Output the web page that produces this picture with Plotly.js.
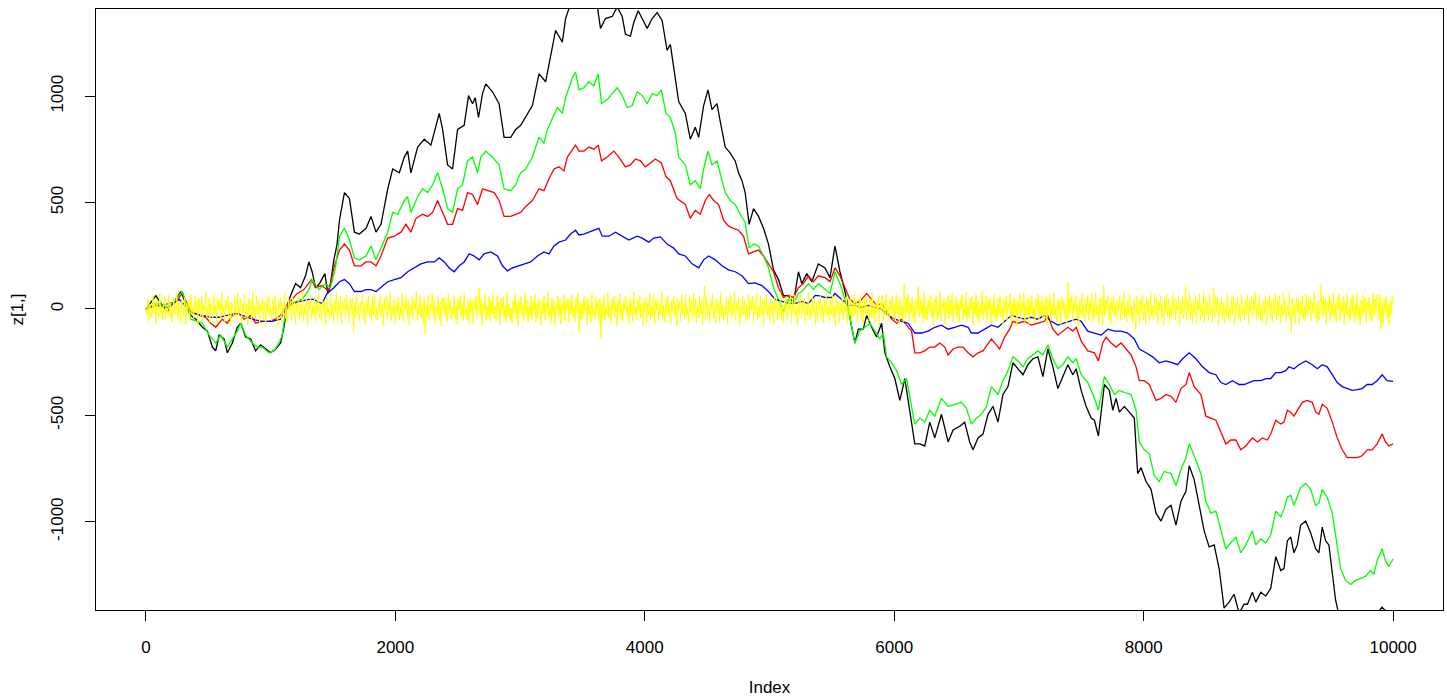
<!DOCTYPE html>
<html>
<head>
<meta charset="utf-8">
<script src="https://cdn.plot.ly/plotly-3.0.1.min.js"></script>
<style>
  html, body { margin: 0; padding: 0; background: #ffffff; }
  #chart { width: 1447px; height: 698px; }
</style>
</head>
<body>
<div id="chart"></div>
<script>
// ---- data: [Index, value] ----
const xTicks = [0, 2000, 4000, 6000, 8000, 10000];
const yTicks = [-1000, -500, 0, 500, 1000];

const black = [[0,-2],[80,63],[120,26],[173,-11],[240,45],[280,82],[320,26],[360,-30],[400,-48],[453,-86],[493,-104],[533,-179],[560,-197],[587,-123],[627,-141],[653,-206],[693,-160],[733,-86],[760,-67],[800,-132],[840,-141],[880,-197],[920,-169],[960,-188],[1000,-206],[1040,-188],[1080,-160],[1107,-86],[1133,17],[1160,63],[1200,119],[1240,100],[1280,156],[1307,221],[1333,175],[1360,100],[1392,119],[1435,166],[1459,73],[1480,119],[1507,231],[1533,305],
[1552,417],[1592,547],[1632,519],[1672,361],[1712,352],[1765,379],[1805,435],[1845,361],[1885,398],[1939,565],[1979,658],[2032,640],[2072,714],[2099,742],[2125,640],[2179,761],[2232,798],[2285,770],[2325,854],[2352,919],[2379,844],[2419,677],[2459,658],[2499,844],[2552,863],[2587,1003],[2619,965],[2640,993],[2667,900],[2699,1012],[2725,1058],[2779,1021],[2832,965],[2872,807],[2925,807],[2965,844],[3005,863],[3059,919],[3099,956],[3152,1105],[3205,1068],[3245,1189],[3285,1309],[3339,1254],[3365,1365],[3392,1412],
[3420,1440],[3460,1420],[3500,1450],[3540,1430],[3580,1460],[3620,1420],
[3645,1319],[3685,1365],[3739,1375],[3779,1420],[3819,1375],[3845,1291],[3885,1282],[3912,1347],[3947,1402],[3979,1365],[4019,1319],[4059,1365],[4099,1393],[4139,1356],[4179,1216],[4205,1244],[4245,1086],[4272,975],[4325,919],[4365,798],[4405,854],[4432,807],[4472,956],[4507,1030],[4539,937],[4579,965],[4605,882],[4645,761],[4685,733],[4725,696],[4752,640],[4779,603],[4805,547],[4837,398],[4872,472],[4912,435],[4952,379],[4992,305],[5032,184],[5072,138],[5112,63],[5152,63],[5192,26],[5232,175],[5259,119],[5299,166],[5339,128],
[5392,212],[5445,193],[5485,147],[5525,296],[5565,175],[5605,82],[5632,7],[5659,-86],[5685,-160],[5712,-95],[5752,-95],[5779,-30],[5819,-86],[5859,-132],[5899,-67],[5925,-206],[5965,-272],[6005,-327],[6045,-430],[6085,-327],[6125,-476],[6165,-634],[6205,-634],[6245,-644],[6285,-532],[6325,-606],[6379,-495],[6432,-625],[6472,-569],[6525,-551],[6565,-532],[6605,-625],[6632,-662],[6672,-606],[6712,-588],[6752,-495],[6792,-458],[6832,-532],[6872,-402],[6912,-365],[6952,-253],[6992,-281],[7032,-309],[7072,-262],[7112,-234],[7152,-225],[7192,-318],[7232,-188],[7272,-272],
[7312,-374],[7352,-318],[7392,-262],[7432,-309],[7459,-281],[7499,-383],[7539,-458],[7579,-513],[7605,-523],[7637,-597],[7672,-402],[7685,-355],[7725,-383],[7752,-476],[7779,-420],[7805,-485],[7845,-458],[7885,-485],[7925,-513],[7952,-774],[7979,-746],[8019,-811],[8059,-848],[8099,-960],[8139,-997],[8179,-941],[8219,-923],[8259,-1016],[8299,-904],[8339,-857],[8365,-737],[8405,-802],[8445,-923],[8485,-1043],[8525,-1118],[8565,-1109],[8605,-1220],[8645,-1406],[8685,-1378],[8725,-1341],[8765,-1430],[8805,-1388],
[8832,-1388],[8872,-1332],[8899,-1378],[8939,-1332],[8979,-1350],[9019,-1313],[9059,-1164],[9099,-1229],[9125,-1220],[9152,-1090],[9179,-1071],[9205,-1146],[9232,-1109],[9259,-1016],[9299,-997],[9339,-1053],[9379,-1127],[9405,-1146],[9432,-1025],[9459,-1090],[9485,-1109],[9512,-1239],[9539,-1369],[9557,-1415],[9600,-1480],[9680,-1530],[9760,-1510],[9840,-1460],[9910,-1402],[9960,-1430],[10000,-1420]];

const red = [[0,-2],[80,26],[133,17],[240,35],[293,73],[360,-11],[427,-30],[480,-39],[520,-67],[560,-86],[613,-48],[653,-67],[693,-30],[747,-20],[787,-48],[840,-30],[880,-67],[933,-58],[987,-58],[1040,-48],[1080,-30],[1120,7],[1173,45],[1213,73],[1267,91],[1328,138],[1360,100],[1413,110],[1467,82],[1507,193],
[1552,277],[1592,305],[1632,277],[1672,203],[1725,203],[1765,221],[1805,221],[1845,203],[1885,249],[1939,333],[1992,342],[2045,361],[2085,398],[2125,361],[2165,426],[2219,445],[2259,435],[2299,454],[2339,510],[2379,454],[2419,398],[2459,398],[2499,472],[2539,463],[2579,547],[2619,538],[2659,491],[2699,565],[2739,556],[2792,547],[2832,510],[2872,435],[2925,435],[2965,445],[3005,454],[3045,482],[3099,510],[3152,565],[3192,556],[3232,612],[3272,658],[3312,668],[3352,649],[3379,714],[3419,751],[3445,770],
[3472,742],[3512,742],[3552,761],[3592,751],[3627,770],[3653,696],[3699,714],[3752,742],[3792,714],[3845,668],[3885,677],[3925,705],[3965,696],[4005,668],[4045,686],[4085,705],[4133,686],[4171,621],[4205,603],[4259,519],[4325,491],[4365,426],[4405,463],[4445,445],[4485,510],[4517,538],[4552,510],[4592,491],[4632,417],[4672,389],[4712,379],[4752,370],[4792,342],[4832,259],[4872,268],[4912,277],[4952,249],[4992,212],[5032,175],[5072,100],[5112,54],[5152,63],[5192,54],[5232,100],[5272,119],[5312,156],[5352,128],
[5392,156],[5445,147],[5485,128],[5525,193],[5565,156],[5605,100],[5645,45],[5685,26],[5725,35],[5779,73],[5819,45],[5859,17],[5899,26],[5939,-11],[5979,-48],[6019,-67],[6059,-48],[6099,-76],[6139,-104],[6165,-206],[6205,-206],[6245,-197],[6285,-179],[6325,-179],[6365,-160],[6405,-179],[6432,-216],[6472,-188],[6512,-179],[6552,-179],[6592,-206],[6632,-225],[6672,-206],[6712,-197],[6752,-160],[6779,-141],[6819,-169],[6845,-188],[6885,-132],[6925,-95],[6952,-58],[6992,-67],[7045,-58],[7099,-76],[7152,-67],[7205,-58],[7232,-30],[7272,-95],
[7312,-123],[7352,-104],[7392,-86],[7432,-104],[7459,-86],[7499,-151],[7552,-197],[7605,-206],[7637,-244],[7672,-160],[7699,-132],[7739,-160],[7779,-179],[7819,-160],[7859,-188],[7899,-216],[7939,-272],[7965,-337],[8005,-337],[8045,-355],[8099,-430],[8139,-420],[8179,-402],[8219,-411],[8259,-439],[8299,-374],[8339,-355],[8365,-299],[8405,-365],[8459,-402],[8499,-504],[8539,-513],[8579,-523],[8619,-578],[8659,-634],[8699,-616],[8739,-616],[8779,-662],[8819,-644],
[8872,-606],[8912,-625],[8952,-606],[8992,-616],[9019,-588],[9059,-523],[9099,-541],[9125,-532],[9152,-476],[9179,-485],[9205,-504],[9232,-476],[9272,-439],[9312,-430],[9352,-439],[9379,-485],[9405,-495],[9432,-448],[9472,-467],[9512,-532],[9552,-606],[9592,-662],[9632,-699],[9672,-699],[9712,-699],[9752,-690],[9792,-662],[9832,-662],[9872,-634],[9912,-588],[9939,-625],[9965,-644],[10000,-634]];

const green = [[0,-2],[80,26],[133,17],[213,26],[293,82],[360,-48],[413,-58],[453,-67],[507,-123],[560,-160],[600,-123],[653,-179],[693,-141],[733,-104],[760,-67],[800,-123],[853,-160],[893,-179],[933,-179],[987,-206],[1027,-197],[1067,-160],[1093,-123],[1120,-11],[1160,26],[1200,35],[1253,45],[1307,91],[1333,138],[1387,91],[1440,119],[1480,100],[1520,193],
[1552,342],[1592,379],[1632,324],[1672,240],[1712,231],[1765,249],[1805,296],[1845,231],[1885,286],[1939,361],[1979,454],[2019,445],[2072,510],[2099,528],[2125,454],[2179,528],[2219,565],[2259,547],[2299,584],[2339,640],[2379,565],[2419,472],[2459,454],[2499,565],[2539,584],[2579,696],[2619,714],[2659,640],[2685,714],[2725,742],[2779,714],[2832,677],[2872,565],[2925,556],[2965,584],[3005,640],[3045,658],[3099,714],[3152,807],[3192,779],[3219,844],[3259,900],[3299,947],[3339,919],[3365,993],[3392,1040],[3419,1086],[3445,1114],
[3472,1030],[3512,1040],[3552,1068],[3592,1049],[3627,1105],[3653,965],[3699,984],[3739,1012],[3779,1040],[3819,1003],[3859,947],[3899,956],[3939,1021],[3979,1003],[4019,965],[4059,1012],[4099,1003],[4133,1030],[4171,919],[4205,900],[4245,826],[4272,714],[4325,677],[4365,584],[4405,603],[4445,565],[4472,658],[4507,742],[4539,677],[4579,696],[4619,603],[4645,547],[4685,510],[4725,491],[4765,445],[4805,407],[4837,286],[4872,305],[4912,296],[4952,249],[4992,193],[5032,100],[5072,45],[5112,-11],[5152,45],[5192,26],[5232,73],[5259,82],[5312,119],[5352,91],
[5392,119],[5445,91],[5485,73],[5525,175],[5565,119],[5605,45],[5645,-39],[5685,-160],[5725,-104],[5765,-86],[5805,-67],[5845,-104],[5885,-141],[5912,-113],[5939,-225],[5979,-253],[6019,-290],[6059,-355],[6099,-327],[6139,-458],[6165,-541],[6205,-513],[6245,-532],[6285,-476],[6325,-504],[6379,-420],[6432,-458],[6485,-448],[6539,-439],[6579,-467],[6619,-541],[6659,-513],[6699,-495],[6739,-458],[6779,-365],[6832,-402],[6872,-337],[6912,-290],[6952,-225],[6992,-244],[7032,-272],[7072,-234],[7112,-216],[7152,-197],[7192,-216],[7232,-169],[7272,-234],
[7312,-281],[7352,-262],[7392,-225],[7432,-253],[7459,-234],[7499,-309],[7552,-346],[7605,-420],[7637,-476],[7685,-318],[7725,-355],[7765,-402],[7805,-383],[7845,-392],[7899,-402],[7939,-476],[7965,-625],[8005,-662],[8045,-681],[8085,-783],[8125,-811],[8165,-764],[8219,-774],[8259,-830],[8299,-755],[8339,-699],[8365,-634],[8405,-690],[8459,-774],[8499,-904],[8539,-960],[8579,-950],[8619,-1034],[8659,-1127],[8699,-1099],[8739,-1071],[8779,-1146],[8819,-1109],
[8872,-1043],[8899,-1109],[8939,-1081],[8979,-1099],[9019,-1062],[9059,-950],[9099,-978],[9125,-941],[9152,-885],[9179,-876],[9205,-923],[9232,-885],[9259,-839],[9299,-820],[9339,-848],[9379,-923],[9405,-913],[9432,-848],[9472,-885],[9512,-960],[9539,-1071],[9579,-1220],[9619,-1276],[9659,-1295],[9699,-1276],[9739,-1267],[9779,-1257],[9819,-1229],[9845,-1248],[9872,-1183],[9912,-1127],[9939,-1183],[9965,-1211],[10000,-1174]];

const blue = [[0,-2],[80,17],[173,7],[267,45],[373,-20],[453,-30],[520,-39],[587,-39],[653,-30],[720,-20],[773,-30],[853,-48],[933,-58],[1013,-58],[1080,-48],[1120,-2],[1173,26],[1240,35],[1307,45],[1347,45],[1373,35],[1413,26],[1453,73],[1507,100],
[1552,128],[1592,138],[1632,119],[1672,82],[1725,82],[1765,91],[1805,91],[1845,82],[1885,100],[1939,128],[1992,138],[2045,147],[2099,175],[2152,193],[2205,212],[2259,221],[2312,221],[2352,240],[2392,221],[2432,193],[2472,175],[2512,203],[2552,221],[2592,259],[2632,249],[2672,231],[2712,259],[2765,268],[2819,249],[2859,203],[2899,179],[2939,193],[2992,203],[3045,212],[3085,221],[3139,249],[3192,268],[3232,259],[3272,296],[3312,314],[3365,324],[3405,352],[3445,370],
[3472,348],[3512,352],[3552,361],[3592,370],[3632,379],[3659,342],[3712,342],[3765,361],[3819,342],[3872,324],[3939,342],[3979,333],[4032,314],[4072,333],[4125,339],[4179,305],[4232,286],[4272,259],[4325,249],[4379,212],[4432,193],[4472,231],[4512,249],[4565,231],[4619,203],[4672,184],[4725,175],[4779,156],[4832,119],[4885,123],[4939,110],[4992,82],[5045,45],[5099,35],[5152,26],[5205,26],[5259,35],[5312,26],[5365,63],
[5392,63],[5445,54],[5499,54],[5525,73],[5579,45],[5632,17],[5685,17],[5739,7],[5792,17],[5845,7],[5899,-2],[5952,-30],[6005,-48],[6059,-58],[6112,-67],[6165,-113],[6219,-113],[6272,-104],[6325,-86],[6379,-76],[6432,-95],[6485,-86],[6539,-76],[6592,-86],[6619,-113],[6672,-113],[6725,-95],[6779,-76],[6832,-86],[6885,-58],[6939,-30],[6992,-39],[7045,-48],[7099,-39],[7152,-48],[7205,-30],[7259,-58],
[7312,-76],[7365,-67],[7419,-58],[7459,-48],[7499,-58],[7552,-104],[7605,-113],[7659,-123],[7712,-95],[7765,-104],[7819,-104],[7872,-113],[7925,-141],[7965,-188],[8019,-206],[8072,-225],[8125,-253],[8179,-244],[8232,-253],[8272,-262],[8312,-234],[8365,-206],[8419,-234],[8472,-272],[8525,-299],[8579,-309],[8619,-346],[8659,-355],[8712,-337],[8765,-355],[8805,-355],
[8885,-337],[8939,-337],[8979,-327],[9019,-327],[9059,-299],[9099,-299],[9139,-290],[9165,-272],[9205,-281],[9245,-262],[9299,-244],[9352,-262],[9392,-281],[9432,-262],[9472,-272],[9512,-309],[9552,-346],[9592,-365],[9632,-374],[9672,-383],[9712,-379],[9752,-374],[9792,-355],[9832,-355],[9872,-337],[9912,-309],[9952,-337],[10000,-340]];

// yellow: noise band around zero, values at evenly spaced Index positions 0..10000
const yellowValues = [
11,-31,49,-57,24,4,-42,62,-17,36,-69,43,-7,-38,73,-25,13,-53,32,57,-46,8,-21,66,-39,
27,-62,17,52,-29,-8,77,-50,34,-13,-66,46,20,-35,56,-73,29,-4,41,-56,70,-24,11,-43,60,
-15,39,-78,50,3,-34,63,-53,22,-10,85,-41,-20,48,-63,31,7,-46,67,-28,15,-71,55,-8,38,
-52,74,-27,13,-59,42,-3,64,-48,28,-81,35,18,-39,59,-22,-55,80,-32,6,49,-64,25,-14,69,
-43,21,-74,53,-11,34,-60,83,-36,10,-49,62,-25,39,-70,17,-6,57,-52,32,-84,45,-18,71,-31,
8,-56,46,-21,66,-41,27,-76,38,-1,55,-63,20,-34,78,-45,14,-67,50,-10,35,-53,60,-27,42,
-71,29,-13,63,-48,22,-36,81,-59,11,-24,52,-77,41,-4,67,-50,18,-32,56,-66,34,-17,73,-42,
24,-60,48,-8,38,-80,57,-28,7,-49,70,-35,21,-64,43,-14,84,-55,31,-20,60,-73,36,-1,50,
-39,66,-22,15,-69,46,-6,53,-110,28,-43,77,-25,13,-57,39,-10,64,-49,27,-76,42,-17,59,-34,
20,-63,55,-29,74,-42,8,-53,34,-18,69,-38,22,-81,49,-7,62,-45,29,-13,80,-56,17,-36,43,
-67,35,-21,56,-50,11,-31,71,-60,25,-4,64,-41,46,-77,20,-15,55,-48,38,-8,83,-52,14,-28,
63,-43,31,-70,52,-120,18,-34,67,-55,22,-11,76,-38,41,-64,13,-27,59,-49,34,-80,48,-3,57,
-36,27,-62,73,-20,42,-53,10,-29,66,-46,17,-74,50,-8,60,-39,24,-57,77,-28,4,-50,39,-66,
53,-17,35,-69,43,-6,62,-42,21,100,-31,48,-78,28,-13,67,-52,15,-35,57,-60,36,-22,74,-45,
13,-55,64,-25,32,-73,49,-10,56,-41,18,-63,80,-34,25,-50,3,-67,45,-18,69,-48,29,-81,38,
-7,59,-38,21,-56,76,-27,43,-66,11,-32,63,-49,34,-15,71,-62,22,-42,53,-3,-74,41,-24,62,
-53,28,-11,78,-45,15,-64,52,-29,38,-77,20,-8,59,-39,46,-70,27,-20,66,-55,35,-4,50,-63,
42,-22,69,-36,10,-59,48,-17,74,-108,31,-52,24,-42,62,-11,39,-73,53,-27,17,-62,70,-34,8,
-49,57,-18,36,-67,50,-140,25,-41,66,-56,13,-31,77,-43,20,-64,46,-7,60,-38,29,-80,42,-14,
73,-48,21,-57,39,-3,63,-35,15,-70,53,-22,34,-60,80,-28,10,-52,45,-17,64,-42,27,-77,35,
-11,56,-62,32,-25,74,-50,14,-38,67,-73,41,-6,49,-55,22,-29,81,-46,17,-64,52,-20,62,-32,
25,-70,43,-13,60,-39,28,-80,50,-8,36,-57,70,-24,18,-49,66,-36,7,-67,55,-15,41,-53,77,
-28,48,-66,13,-43,64,-21,38,-74,31,108,-50,57,-34,24,-62,42,-1,71,-46,20,-69,53,-17,34,
-59,78,-41,27,-52,11,-32,62,-71,46,-14,66,-49,29,-22,81,-56,36,-10,55,-76,17,-39,63,-27,
43,-67,21,-45,70,-35,50,-6,59,-64,32,-18,76,-53,14,-42,63,-28,41,-78,48,-13,67,-38,22,
-60,52,-24,35,-73,56,-8,45,-55,27,-34,77,-46,18,-66,39,-15,60,-50,31,-3,71,-63,42,-21,
64,-36,15,-77,49,-27,69,-43,34,-11,53,-67,24,-31,80,-52,8,-41,57,-17,46,-74,28,-56,38,
-4,62,-48,22,-66,42,-20,74,-35,13,-59,50,-28,67,-42,17,-80,55,-10,36,-62,25,-25,70,-50,
32,-14,57,-69,39,-29,49,-55,20,-39,73,-22,43,-63,28,-7,64,-48,34,-73,52,-18,60,-32,11,
-57,46,-34,77,-42,24,-64,36,-17,56,-78,29,-4,66,-53,41,-27,71,-38,15,-60,48,-11,63,-45,
27,-52,67,-21,38,-74,53,-31,13,-62,120,-41,50,-15,70,-56,31,-24,59,-46,18,-70,43,-8,105,
-39,56,-25,36,-63,76,-45,17,-55,42,-13,66,-36,28,-77,49,-20,62,-52,8,-32,80,-57,35,-6,
52,-71,29,-18,64,-48,39,-28,74,-60,21,-10,57,-42,34,-67,46,-3,69,-50,25,-35,78,-55,15,
-41,49,-11,60,-74,31,-22,70,-43,38,-64,20,-29,81,-49,27,-15,63,-59,39,-7,53,-69,22,-34,
71,-46,14,-56,50,-25,66,-38,4,-76,41,-17,62,-53,32,-1,73,-63,24,-42,56,-28,43,-80,36,
-20,67,-50,29,-11,77,-59,18,-35,55,-70,42,-24,63,-39,13,-66,48,-8,70,-52,34,-27,59,-46,
17,-36,60,-77,45,-14,66,-55,25,-32,78,-43,11,-62,52,-21,38,-73,57,-6,42,-49,22,-67,125,
-42,53,-18,69,-57,32,-8,63,-48,21,-81,46,-28,73,-38,14,-60,50,-22,64,-53,36,-13,74,-62,
28,-45,76,-31,10,-66,49,-20,57,-74,110,-39,41,-3,62,-50,27,-70,53,-15,67,-35,18,-57,43,
-10,63,-55,34,-25,80,-46,20,-64,42,-31,71,-41,13,-62,50,-7,-105,60,-28,38,-73,49,-17,66,
-52,22,-76,55,-13,39,-59,77,-34,15,-49,67,-27,46,-70,31,-6,62,-43,25,-80,52,-18,70,-36,
48,-63,17,-39,74,-24,56,-53,29,-8,64,-77,35,-21,59,-46,20,112,-57,41,-14,77,-50,28,-67,
38,-31,62,-71,43,-4,69,-56,22,-38,80,-64,50,-17,34,-55,73,-25,11,-62,100,-41,63,-13,53,
-74,27,-21,57,-49,36,-67,18,-34,76,-42,8,-60,52,-28,66,-78,32,-11,55,-48,21,-63,71,-29,
14,-53,42,-22,66,-73,31,-15,60,-41,49,-7,78,-57,24,-36,69,-49,17,-66,39,-27,57,-76,46,
-1,67,-45,28,-62,53,-18,74,-52,35,-32,63,-69,20,-42,71,-25,45,-59,11,-38,77,-22,-112,50,
-35,22,-67,56,-13,43,-77,38,-27,64,-48,17,-57,70,-31,50,-8,60,-55,29,-20,80,-42,25,-63,
41,-50,17,118,-39,62,-24,49,-70,32,-11,66,-60,42,-29,76,-46,21,-64,55,-4,69,-53,34,-17,
59,-74,36,-28,71,-43,10,-56,52,-21,67,-63,27,-38,78,-50,14,-73,45,-34,63,-15,53,-66,31,
-8,56,-48,24,-60,77,-35,46,-18,69,41,-55,70,-95,29,-67,50,-13,62,-45,20,-76,38,-29,64,
25];
const indexMax = 10000;

// ---- build traces ----
function lineTrace(pairs, color) {
  return {
    type: 'scatter', mode: 'lines',
    x: pairs.map(p => p[0]), y: pairs.map(p => p[1]),
    line: { color: color, width: 1.3 },
    hoverinfo: 'skip', showlegend: false
  };
}
const yellowIdx = yellowValues.map((v, i) => i * indexMax / (yellowValues.length - 1));

const traces = [
  lineTrace(black, '#000000'),
  lineTrace(red, '#FF0000'),
  lineTrace(green, '#00FF00'),
  lineTrace(blue, '#0000FF'),
  { type: 'scatter', mode: 'lines', x: yellowIdx, y: yellowValues,
    line: { color: '#FFFF00', width: 1 }, hoverinfo: 'skip', showlegend: false }
];

const axisFont = { family: 'Liberation Sans, Arial, sans-serif', size: 17, color: '#000000' };

const layout = {
  width: 1447, height: 698,
  margin: { l: 96, r: 4, t: 9, b: 88, pad: 0 },
  paper_bgcolor: '#ffffff', plot_bgcolor: '#ffffff',
  font: axisFont,
  showlegend: false,
  xaxis: {
    range: [-400, 10400], autorange: false,
    tickmode: 'array', tickvals: xTicks, ticktext: xTicks.map(String),
    ticks: 'outside', ticklen: 10, tickwidth: 1, tickcolor: '#000000',
    ticklabelstandoff: 12,
    showline: true, mirror: true, linecolor: '#000000', linewidth: 1,
    showgrid: false, zeroline: false, automargin: false,
    tickfont: axisFont,
    title: { text: 'Index', font: axisFont, standoff: 24 }
  },
  yaxis: {
    range: [-1415, 1410], autorange: false,
    tickmode: 'array', tickvals: yTicks, ticktext: yTicks.map(String),
    tickangle: -90,
    ticks: 'outside', ticklen: 10, tickwidth: 1, tickcolor: '#000000',
    ticklabelstandoff: 15,
    showline: true, mirror: true, linecolor: '#000000', linewidth: 1,
    showgrid: false, zeroline: false, automargin: false,
    tickfont: axisFont,
    title: { text: 'z[1,]', font: axisFont, standoff: 20 }
  }
};

Plotly.newPlot('chart', traces, layout, { staticPlot: true, displayModeBar: false });
</script>
</body>
</html>
